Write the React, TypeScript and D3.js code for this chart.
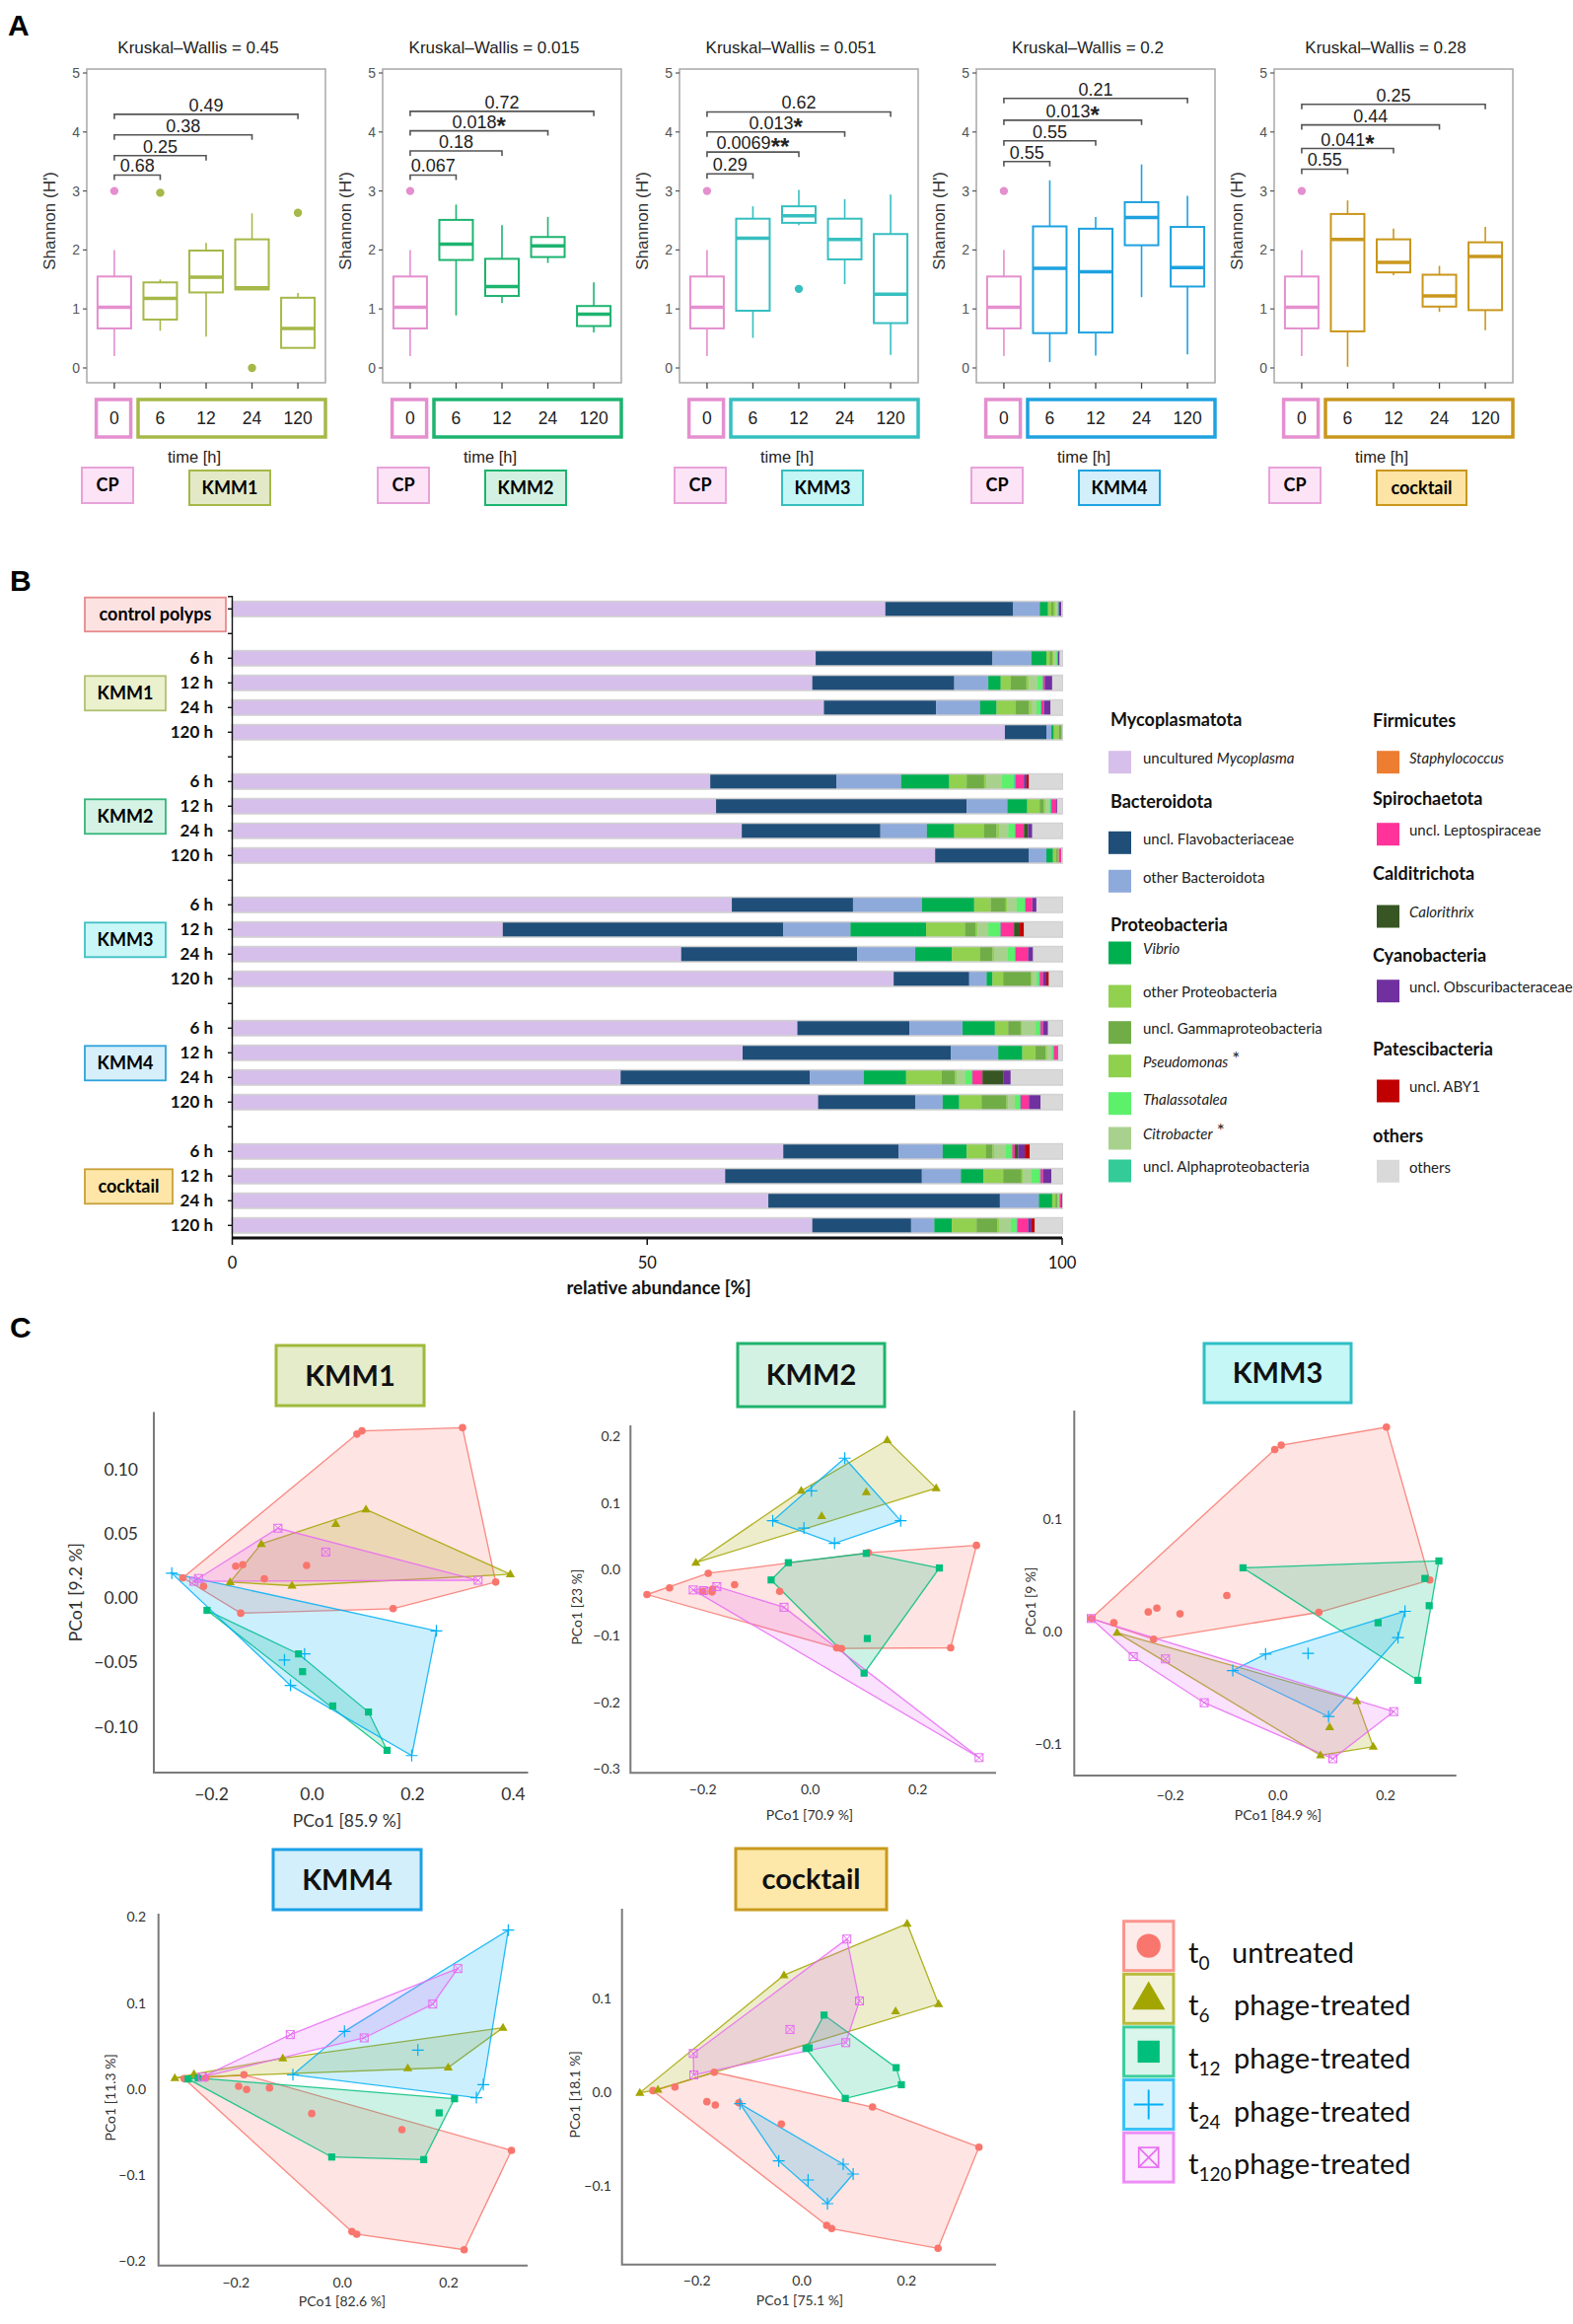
import React from "react";
import * as d3 from "d3";

// ---------- panel A: Shannon diversity ----------
const timeLabels = ["0", "6", "12", "24", "120"];
const treatments = ["KMM1", "KMM2", "KMM3", "KMM4", "cocktail"];
const kruskalP = ["0.45", "0.015", "0.051", "0.2", "0.28"];

// [lower whisker, Q1, median, Q3, upper whisker]
const cpBox = [0.2, 0.67, 1.03, 1.55, 2.0];
const cpOutliers = [3.0];
const kmm1Boxes = [[0.63, 0.82, 1.18, 1.45, 1.5], [0.53, 1.28, 1.54, 1.99, 2.12], [1.33, 1.33, 1.36, 2.18, 2.62], [0.34, 0.34, 0.67, 1.19, 1.27]];
const kmm2Boxes = [[0.89, 1.83, 2.1, 2.51, 2.77], [1.1, 1.22, 1.38, 1.85, 2.42], [1.78, 1.88, 2.07, 2.22, 2.56], [0.6, 0.71, 0.91, 1.05, 1.45]];
const kmm3Boxes = [[0.51, 0.97, 2.2, 2.53, 2.74], [2.42, 2.46, 2.58, 2.74, 3.02], [1.42, 1.84, 2.18, 2.53, 2.86], [0.22, 0.76, 1.25, 2.27, 2.94]];
const kmm4Boxes = [[0.1, 0.59, 1.69, 2.4, 3.18], [0.21, 0.6, 1.63, 2.36, 2.56], [1.2, 2.08, 2.55, 2.81, 3.45], [0.23, 1.38, 1.7, 2.39, 2.92]];
const cocktailBoxes = [[0.02, 0.62, 2.18, 2.61, 2.84], [1.57, 1.62, 1.79, 2.18, 2.36], [0.95, 1.04, 1.22, 1.58, 1.73], [0.64, 0.98, 1.89, 2.13, 2.39]];
const kmm1Outliers = [[2.97], [], [0], [2.63]];
const kmm2Outliers = [[], [], [], []];
const kmm3Outliers = [[], [1.34], [], []];
const kmm4Outliers = [[], [], [], []];
const cocktailOutliers = [[], [], [], []];

// pairwise p-values vs. 0 h (6, 12, 24, 120 h) and bracket heights
const kmm1Pairs = ["0.68", "0.25", "0.38", "0.49"];
const kmm2Pairs = ["0.067", "0.18", "0.018*", "0.72"];
const kmm3Pairs = ["0.29", "0.0069**", "0.013*", "0.62"];
const kmm4Pairs = ["0.55", "0.55", "0.013*", "0.21"];
const cocktailPairs = ["0.55", "0.041*", "0.44", "0.25"];
const kmm1PairY = [3.27, 3.6, 3.95, 4.3];
const kmm2PairY = [3.27, 3.68, 4.02, 4.35];
const kmm3PairY = [3.29, 3.66, 4.0, 4.34];
const kmm4PairY = [3.5, 3.85, 4.2, 4.57];
const cocktailPairY = [3.37, 3.72, 4.12, 4.47];

const allBoxes = [kmm1Boxes, kmm2Boxes, kmm3Boxes, kmm4Boxes, cocktailBoxes];
const allOutliers = [kmm1Outliers, kmm2Outliers, kmm3Outliers, kmm4Outliers, cocktailOutliers];
const allPairs = [kmm1Pairs, kmm2Pairs, kmm3Pairs, kmm4Pairs, cocktailPairs];
const allPairY = [kmm1PairY, kmm2PairY, kmm3PairY, kmm4PairY, cocktailPairY];

const cpColor = "#e48fcf";
const cpFill = "#fde3f6";
const groupColors = ["#a6b848", "#1db46f", "#36bfc0", "#1ea2e0", "#c9971c"];
const groupFills = ["#e3e9c7", "#d3f1e2", "#c4f6f6", "#d3effb", "#fde3a4"];

// ---------- panel B: relative abundance ----------
const taxa = [
    "uncultured Mycoplasma", "uncl. Flavobacteriaceae", "other Bacteroidota", "Vibrio",
    "other Proteobacteria", "uncl. Gammaproteobacteria", "Pseudomonas", "Citrobacter",
    "Thalassotalea", "uncl. Alphaproteobacteria", "Staphylococcus", "uncl. Leptospiraceae",
    "Calorithrix", "uncl. Obscuribacteraceae", "uncl. ABY1", "others",
];
const taxaColors = [
    "#d6bfea", "#1f4e79", "#8eaadb", "#00b050", "#92d050", "#70ad47", "#8fd14f", "#a9d18e",
    "#5cf06b", "#33cc99", "#ed7d31", "#ff3399", "#375623", "#7030a0", "#c00000", "#d9d9d9",
];
const barTimes = ["6 h", "12 h", "24 h", "120 h"];
const controlAbund = [78.7, 15.4, 3.2, 1.0, 0.4, 0.3, 0.2, 0.2, 0.1, 0.1, 0, 0, 0, 0.3, 0, 0.1];
const kmm1Abund = [
    [70.3, 21.3, 4.7, 1.8, 0.4, 0.3, 0.2, 0.2, 0.2, 0.1, 0, 0, 0, 0.2, 0, 0.3],
    [69.9, 17.1, 4.1, 1.5, 1.2, 1.9, 0.3, 1.0, 0.6, 0.1, 0, 0.2, 0, 0.9, 0, 1.2],
    [71.3, 13.5, 5.3, 2.0, 2.3, 1.6, 0.3, 0.6, 0.5, 0.1, 0, 0.3, 0, 0.8, 0, 1.4],
    [93.1, 5.0, 0.6, 0.3, 0.6, 0.3, 0.1, 0, 0, 0, 0, 0, 0, 0, 0, 0],
];
const kmm2Abund = [
    [57.6, 15.2, 7.8, 5.8, 2.1, 2.1, 0.3, 1.8, 1.5, 0.2, 0, 1.0, 0, 0.3, 0.3, 4.0],
    [58.3, 30.2, 4.9, 2.4, 1.5, 0.5, 0.2, 0.4, 0.2, 0.1, 0, 0.6, 0, 0.1, 0, 0.6],
    [61.4, 16.7, 5.6, 3.3, 3.6, 1.5, 0.3, 1.1, 0.8, 0.1, 0, 1.0, 0.5, 0.5, 0, 3.6],
    [84.7, 11.3, 2.1, 0.8, 0.4, 0.2, 0.1, 0, 0, 0, 0, 0.3, 0, 0, 0, 0.1],
];
const kmm3Abund = [
    [60.2, 14.6, 8.3, 6.3, 2.0, 1.8, 0.2, 1.1, 1.0, 0.1, 0, 0.8, 0, 0.5, 0, 3.1],
    [32.6, 33.8, 8.1, 9.1, 4.7, 1.3, 0.2, 1.3, 1.4, 0.1, 0, 1.6, 0.7, 0, 0.5, 4.6],
    [54.1, 21.2, 7.0, 4.4, 3.4, 1.5, 0.2, 1.6, 0.9, 0.1, 0, 1.5, 0, 0.6, 0, 3.5],
    [79.7, 9.1, 2.1, 0.7, 1.3, 3.3, 0.2, 0.5, 0.3, 0.1, 0, 0.4, 0, 0.4, 0.3, 1.6],
];
const kmm4Abund = [
    [68.1, 13.5, 6.4, 3.9, 1.6, 1.5, 0.2, 1.6, 0.5, 0.1, 0, 0.3, 0, 0.6, 0, 1.7],
    [61.5, 25.1, 5.7, 2.9, 1.6, 1.2, 0.2, 0.5, 0.2, 0.1, 0, 0.4, 0, 0.1, 0, 0.5],
    [46.8, 22.8, 6.5, 5.1, 4.3, 1.6, 0.2, 1.0, 0.8, 0.1, 0, 1.2, 2.5, 0.9, 0, 6.2],
    [70.6, 11.7, 3.3, 2.0, 2.7, 3.0, 0.2, 0.8, 0.6, 0.1, 0, 1.0, 0, 1.4, 0, 2.6],
];
const cocktailAbund = [
    [66.4, 13.9, 5.3, 2.9, 2.3, 0.8, 0.2, 1.4, 0.7, 0.1, 0, 0.3, 0.4, 0.8, 0.6, 3.9],
    [59.4, 23.7, 4.7, 2.7, 2.4, 2.2, 0.2, 1.0, 1.0, 0.1, 0, 0.3, 0, 1.0, 0, 1.3],
    [64.6, 27.9, 4.7, 1.6, 0.4, 0.2, 0.1, 0.1, 0.1, 0, 0, 0.2, 0, 0.1, 0, 0],
    [69.9, 11.9, 2.8, 2.1, 3.0, 2.5, 0.2, 1.4, 0.7, 0.1, 0, 1.3, 0, 0.4, 0.4, 3.3],
];
const abundTicks = [0, 50, 100];

// ---------- panel C: PCoA ----------
const timeGroups = ["t0", "t6", "t12", "t24", "t120"];
const timeColors = ["#F8766D", "#A3A500", "#00BF7D", "#00B0F6", "#E76BF3"];
const kmm1Pcoa = [
    [[0.089, 0.1275], [0.099, 0.13], [0.299, 0.1325], [0.365, 0.0124], [0.161, -0.0083], [-0.142, -0.0118], [-0.257, 0.0157], [-0.216, 0.0091], [-0.152, 0.0248], [-0.138, 0.0259], [-0.095, 0.0149], [-0.011, 0.0253]],
    [[0.107, 0.0689], [0.047, 0.0576], [-0.101, 0.0421], [-0.163, 0.0124], [-0.04, 0.0096], [0.394, 0.0185]],
    [[-0.209, -0.0096], [-0.027, -0.0435], [-0.019, -0.0573], [0.041, -0.084], [0.112, -0.0887], [0.149, -0.1185]],
    [[-0.279, 0.0193], [0.247, -0.0256], [0.198, -0.1226], [-0.043, -0.068], [-0.055, -0.0482], [-0.015, -0.0435]],
    [[-0.068, 0.0543], [0.027, 0.0358], [0.33, 0.0138], [-0.226, 0.0152], [-0.235, 0.013]],
];
const kmm2Pcoa = [
    [[-0.304, -0.038], [-0.262, -0.028], [-0.19, -0.006], [-0.141, -0.023], [-0.057, -0.033], [0.309, 0.036], [0.261, -0.118], [0.058, -0.119], [0.049, -0.118], [-0.2, -0.033], [-0.183, -0.034], [-0.182, -0.03], [0.108, 0.025]],
    [[-0.213, 0.01], [-0.017, 0.118], [0.021, 0.08], [0.104, 0.116], [0.143, 0.194], [0.234, 0.122]],
    [[-0.073, -0.016], [-0.041, 0.01], [0.104, 0.024], [0.24, 0.002], [0.106, -0.104], [0.1, -0.156]],
    [[0.064, 0.167], [0.002, 0.118], [-0.07, 0.073], [-0.012, 0.062], [0.045, 0.039], [0.168, 0.073]],
    [[-0.218, -0.031], [-0.174, -0.026], [-0.049, -0.057], [0.314, -0.283], [-0.199, -0.032]],
];
const kmm3Pcoa = [
    [[-0.347, 0.0117], [-0.305, 0.0079], [-0.231, -0.0067], [-0.241, 0.0175], [-0.225, 0.021], [-0.182, 0.0158], [-0.095, 0.0321], [-0.006, 0.1618], [0.006, 0.1656], [0.2015, 0.1817], [0.282, 0.0459], [0.076, 0.0172]],
    [[-0.299, -0.0009], [0.1465, -0.0616], [0.096, -0.0847], [0.177, -0.1022], [0.079, -0.1098]],
    [[-0.065, 0.0567], [0.299, 0.0628], [0.273, 0.0473], [0.281, 0.0231], [0.186, 0.0079], [0.26, -0.0432]],
    [[-0.084, -0.0345], [-0.023, -0.0199], [0.056, -0.0193], [0.236, 0.0181], [0.223, -0.0053], [0.094, -0.0754]],
    [[-0.347, 0.0117], [-0.269, -0.0222], [-0.209, -0.0242], [-0.137, -0.0631], [0.215, -0.071], [0.102, -0.1128]],
];
const kmm4Pcoa = [
    [[-0.2975, 0.012], [-0.257, 0.0128], [-0.185, 0.0166], [-0.195, 0.0032], [-0.18, -0.0005], [-0.137, 0.0013], [-0.0575, -0.0285], [0.112, -0.0472], [0.318, -0.0713], [0.229, -0.1867], [0.027, -0.1687], [0.018, -0.1657]],
    [[-0.315, 0.0128], [-0.279, 0.0174], [-0.112, 0.0357], [0.123, 0.0243], [0.199, 0.025], [0.302, 0.0713]],
    [[-0.271, 0.0128], [-0.02, -0.079], [0.153, -0.082], [0.211, -0.0113], [0.182, -0.0277], [-0.29, 0.0117]],
    [[-0.093, 0.0166], [0.004, 0.067], [0.142, 0.0452], [0.312, 0.1847], [0.265, 0.0051], [0.252, -0.0101]],
    [[-0.263, 0.014], [-0.098, 0.0632], [0.041, 0.0594], [0.17, 0.0987], [0.217, 0.14]],
];
const cocktailPcoa = [
    [[-0.284, 0.0015], [-0.242, 0.0054], [-0.167, 0.0211], [-0.181, -0.0103], [-0.165, -0.0138], [-0.12, -0.0114], [-0.039, -0.0341], [0.135, -0.016], [0.338, -0.0587], [0.26, -0.1665], [0.057, -0.1455], [0.0475, -0.142]],
    [[-0.309, -0.0008], [-0.2745, 0.0026], [-0.034, 0.1245], [0.201, 0.1794], [0.261, 0.0937], [0.179, 0.086]],
    [[0.008, 0.0464], [0.0425, 0.082], [0.18, 0.026], [0.19, 0.0078], [0.083, -0.0068], [0.014, 0.0471]],
    [[-0.118, -0.0124], [-0.044, -0.0734], [0.012, -0.0937], [0.079, -0.0769], [0.098, -0.0874], [0.049, -0.1189]],
    [[-0.207, 0.0411], [-0.206, 0.0183], [-0.0225, 0.0667], [0.086, 0.163], [0.11, 0.0971], [0.084, 0.0526]],
];
const pcoaXTitles = ["PCo1 [85.9 %]", "PCo1 [70.9 %]", "PCo1 [84.9 %]", "PCo1 [82.6 %]", "PCo1 [75.1 %]"];
const pcoaYTitles = ["PCo1 [9.2 %]", "PCo1 [23 %]", "PCo1 [9 %]", "PCo1 [11.3 %]", "PCo1 [18.1 %]"];
const legendSubs = ["0", "6", "12", "24", "120"];
const legendTexts = ["untreated", "phage-treated", "phage-treated", "phage-treated", "phage-treated"];

const ARIAL = "'Liberation Sans', Arial, sans-serif";
const SANS = "Lato, 'Open Sans', sans-serif";

// ===================== Panel A =====================
const panelALefts = [88, 388, 689, 990, 1292];
const PW = 242;

function Stars({ label, size }: { label: string; size: number }) {
    const num = label.replace(/\*/g, "");
    const stars = label.slice(num.length);
    return (
        <>
            {num}
            {stars && (
                <tspan fontSize={size + 6} fontWeight="bold" dy={6}>
                    {stars}
                </tspan>
            )}
        </>
    );
}

function ShannonPanel({ i }: { i: number }) {
    const left = panelALefts[i];
    const right = left + PW;
    const x = d3.scalePoint<string>().domain(timeLabels).range([left, right]).padding(0.6);
    const y = d3.scaleLinear().domain([0, 5]).range([373, 74]);
    const boxes = [cpBox, ...allBoxes[i]];
    const outliers = [cpOutliers, ...allOutliers[i]];
    const colors = timeLabels.map((_, k) => (k === 0 ? cpColor : groupColors[i]));
    const bw = 34;
    const labelW = treatments[i] === "cocktail" ? 91 : 82;

    return (
        <g fontFamily={ARIAL}>
            <text x={left + PW / 2 - 8} y={54} textAnchor="middle" fontSize={17} fill="#222">
                {`Kruskal–Wallis = ${kruskalP[i]}`}
            </text>
            <rect x={left} y={70} width={PW} height={318} fill="none" stroke="#a8a8a8" strokeWidth={1.5} />
            {y.ticks(5).map((t) => (
                <g key={t}>
                    <line x1={left - 4} x2={left} y1={y(t)} y2={y(t)} stroke="#555" strokeWidth={1.2} />
                    <text x={left - 7} y={y(t)} dy="0.35em" textAnchor="end" fontSize={14} fill="#555">
                        {t}
                    </text>
                </g>
            ))}
            <text
                transform={`translate(${left - 32},224) rotate(-90)`}
                textAnchor="middle"
                fontSize={17}
                fill="#333"
            >
                Shannon (H')
            </text>
            {timeLabels.map((t) => (
                <line key={t} x1={x(t)} x2={x(t)} y1={388} y2={394} stroke="#444" strokeWidth={1.3} />
            ))}

            {/* brackets */}
            {allPairs[i].map((lab, k) => {
                const x1 = x("0")!;
                const x2 = x(timeLabels[k + 1])!;
                const yy = y(allPairY[i][k]);
                return (
                    <g key={k}>
                        <path
                            d={`M${x1},${yy + 5}V${yy}H${x2}V${yy + 5}`}
                            fill="none"
                            stroke="#555"
                            strokeWidth={1.6}
                        />
                        <text x={(x1 + x2) / 2} y={yy - 3} textAnchor="middle" fontSize={18} fill="#222">
                            <Stars label={lab} size={18} />
                        </text>
                    </g>
                );
            })}

            {/* boxes */}
            {boxes.map((b, k) => {
                const cx = x(timeLabels[k])!;
                const c = colors[k];
                return (
                    <g key={k} stroke={c}>
                        <line x1={cx} x2={cx} y1={y(b[0])} y2={y(b[1])} strokeWidth={1.6} />
                        <line x1={cx} x2={cx} y1={y(b[3])} y2={y(b[4])} strokeWidth={1.6} />
                        <rect x={cx - bw / 2} y={y(b[3])} width={bw} height={y(b[1]) - y(b[3])} fill="#fff" strokeWidth={2} />
                        <line x1={cx - bw / 2} x2={cx + bw / 2} y1={y(b[2])} y2={y(b[2])} strokeWidth={3.5} />
                        {outliers[k].map((o, m) => (
                            <circle key={m} cx={cx} cy={y(o)} r={4.2} fill={c} stroke="none" />
                        ))}
                    </g>
                );
            })}

            {/* time label row */}
            <rect x={left + 9.6} y={405} width={35} height={38} fill="#fff" stroke={cpColor} strokeWidth={3.5} />
            <rect x={left + 52} y={405} width={PW - 52} height={38} fill="#fff" stroke={groupColors[i]} strokeWidth={3.5} />
            {timeLabels.map((t) => (
                <text key={t} x={x(t)} y={424} dy="0.36em" textAnchor="middle" fontSize={17.5} fill="#222">
                    {t}
                </text>
            ))}
            <text x={left + 109} y={469} textAnchor="middle" fontSize={16.5} fill="#222">
                time [h]
            </text>
            <rect x={left - 5} y={474} width={52} height={36} fill={cpFill} stroke="#e7a3d9" strokeWidth={2} />
            <text x={left + 21} y={492} dy="0.36em" textAnchor="middle" fontSize={18} fontWeight="bold" fontFamily={SANS}>
                CP
            </text>
            <rect x={left + 104} y={477} width={labelW} height={35} fill={groupFills[i]} stroke={groupColors[i]} strokeWidth={2} />
            <text
                x={left + 104 + labelW / 2}
                y={494.5}
                dy="0.36em"
                textAnchor="middle"
                fontSize={18}
                fontWeight="bold"
                fontFamily={SANS}
            >
                {treatments[i]}
            </text>
        </g>
    );
}

// ===================== Panel B =====================
const barGroupAbund = [kmm1Abund, kmm2Abund, kmm3Abund, kmm4Abund, cocktailAbund];
const barBoxFills = ["#ebf0cd", "#d5f3e4", "#c9f6f6", "#d6effb", "#fde6a8"];
const barBoxStrokes = ["#b0c070", "#35b57a", "#3fbfc4", "#2ea3dc", "#c9a03a"];

function AbundancePanel() {
    const rows: { id: string; group: number; time: string; vals: number[] | null }[] = [];
    rows.push({ id: "control", group: -1, time: "", vals: controlAbund });
    treatments.forEach((g, gi) => {
        rows.push({ id: `gap${gi}`, group: gi, time: "", vals: null });
        barTimes.forEach((t, ti) => rows.push({ id: `${g}|${t}`, group: gi, time: t, vals: barGroupAbund[gi][ti] }));
    });
    const yB = d3
        .scaleBand<string>()
        .domain(rows.map((r) => r.id))
        .range([604.8, 1254.8])
        .paddingInner(0.44)
        .paddingOuter(0.22);
    const xB = d3.scaleLinear().domain([0, 100]).range([235.5, 1077]);
    const bh = yB.bandwidth();
    const barRows = rows.filter((r) => r.vals);
    const table = barRows.map((r) => {
        const o: Record<string, any> = { id: r.id };
        taxa.forEach((t, j) => (o[t] = r.vals![j]));
        return o;
    });
    const series = d3.stack<any>().keys(taxa)(table);
    const cy = (id: string) => yB(id)! + bh / 2;

    return (
        <g fontFamily={SANS}>
            {barRows.map((r) => (
                <rect key={r.id} x={xB(0) - 1} y={yB(r.id)! - 1.5} width={xB(100) - xB(0) + 2} height={bh + 3} fill="#d2d2d2" />
            ))}
            {series.map((s, j) =>
                s.map((d) => (
                    <rect
                        key={`${j}-${d.data.id}`}
                        x={xB(d[0])}
                        y={yB(d.data.id)}
                        width={Math.max(0, xB(d[1]) - xB(d[0]))}
                        height={bh}
                        fill={taxaColors[j]}
                    />
                ))
            )}
            {/* y axis */}
            <line x1={235.5} x2={235.5} y1={604} y2={1255} stroke="#111" strokeWidth={1.4} />
            {[604.8, ...rows.map((r) => cy(r.id))].map((v, k) => (
                <line key={k} x1={231} x2={235.5} y1={v} y2={v} stroke="#111" strokeWidth={1.4} />
            ))}
            {rows
                .filter((r) => r.time)
                .map((r) => (
                    <text key={r.id} x={216} y={cy(r.id)} dy="0.36em" textAnchor="end" fontSize={17} fontWeight="bold" fill="#111">
                        {r.time}
                    </text>
                ))}
            {/* group labels */}
            <rect x={86} y={605.7} width={143} height={34.5} fill="#fde2e2" stroke="#e88a8a" strokeWidth={1.8} />
            <text x={157.5} y={623} dy="0.36em" textAnchor="middle" fontSize={18} fontWeight="bold">
                control polyps
            </text>
            {treatments.map((g, gi) => {
                const mid = (cy(`${g}|12 h`) + cy(`${g}|24 h`)) / 2 - 2;
                const w = g === "cocktail" ? 89 : 82;
                return (
                    <g key={g}>
                        <rect x={86} y={mid - 17.5} width={w} height={35} fill={barBoxFills[gi]} stroke={barBoxStrokes[gi]} strokeWidth={1.8} />
                        <text x={86 + w / 2} y={mid} dy="0.36em" textAnchor="middle" fontSize={18} fontWeight="bold">
                            {g}
                        </text>
                    </g>
                );
            })}
            {/* x axis */}
            <line x1={235.5} x2={1077} y1={1255} y2={1255} stroke="#111" strokeWidth={3} />
            {abundTicks.map((t) => (
                <g key={t}>
                    <line x1={xB(t)} x2={xB(t)} y1={1255} y2={1262} stroke="#111" strokeWidth={1.5} />
                    <text x={xB(t)} y={1286} textAnchor="middle" fontSize={16.5} fill="#111">
                        {t}
                    </text>
                </g>
            ))}
            <text x={668} y={1312} textAnchor="middle" fontSize={18.5} fontWeight="bold" fill="#111">
                relative abundance [%]
            </text>
            <AbundanceLegend />
        </g>
    );
}

// legend layout: header or taxon index with y position
const legendLeft: [string | number, number][] = [
    ["Mycoplasmatota", 730], [0, 772.7], ["Bacteroidota", 812.7], [1, 854.3], [2, 893.3],
    ["Proteobacteria", 937.7], [3, 966], [4, 1010], [5, 1046.7], [6, 1080.7], [8, 1118.7], [7, 1154], [9, 1187],
];
const legendRight: [string | number, number][] = [
    ["Firmicutes", 730.7], [10, 772.7], ["Spirochaetota", 810], [11, 845.7], ["Calditrichota", 885.7],
    [12, 929], ["Cyanobacteria", 968.3], [13, 1004.7], ["Patescibacteria", 1063.3], [14, 1106], ["others", 1151.7], [15, 1187.3],
];
const italicTaxa = new Set(["Vibrio", "Pseudomonas", "Thalassotalea", "Citrobacter", "Staphylococcus", "Calorithrix"]);
const starTaxa = new Set(["Pseudomonas", "Citrobacter"]);

function TaxonLabel({ name }: { name: string }) {
    if (name === "uncultured Mycoplasma")
        return (
            <>
                uncultured <tspan fontStyle="italic">Mycoplasma</tspan>
            </>
        );
    if (italicTaxa.has(name))
        return (
            <>
                <tspan fontStyle="italic">{name}</tspan>
                {starTaxa.has(name) && (
                    <tspan fontSize={19} dx={4} dy={-2}>
                        *
                    </tspan>
                )}
            </>
        );
    return <>{name}</>;
}

function AbundanceLegend() {
    const col = (items: [string | number, number][], hx: number, sx: number, tx: number) =>
        items.map(([it, yy], k) =>
            typeof it === "string" ? (
                <text key={k} x={hx} y={yy} dy="0.36em" fontSize={18} fontWeight="bold" fill="#111">
                    {it}
                </text>
            ) : (
                <g key={k}>
                    <rect x={sx} y={yy - 11.5} width={23} height={23} fill={taxaColors[it]} />
                    <text x={tx} y={yy - 4} dy="0.36em" fontSize={15} fill="#222">
                        <TaxonLabel name={taxa[it]} />
                    </text>
                </g>
            )
        );
    return (
        <g>
            {col(legendLeft, 1126, 1124, 1159)}
            {col(legendRight, 1392, 1396, 1429)}
        </g>
    );
}

// ===================== Panel C =====================
const pcoaLayouts = [
    { pts: kmm1Pcoa, xDom: [-0.2, 0.4], xR: [214.5, 520.5], yDom: [-0.1, 0.1], yR: [1750.3, 1489.7], ax: 156, top: 1431.5, bottom: 1797, right: 535.5, xTicks: [-0.2, 0, 0.2, 0.4], yTicks: [-0.1, -0.05, 0, 0.05, 0.1], yFmt: ".2f", font: 17.5, yLabX: 140, xLabY: 1819, xTitle: [352, 1846], yTitleX: 77, box: [280, 1364, 150, 61] },
    { pts: kmm2Pcoa, xDom: [-0.2, 0.2], xR: [712.7, 930.7], yDom: [-0.3, 0.2], yR: [1793.3, 1456], ax: 639.3, top: 1445, bottom: 1797.3, right: 1010, xTicks: [-0.2, 0, 0.2], yTicks: [-0.3, -0.2, -0.1, 0, 0.1, 0.2], yFmt: ".1f", font: 14, yLabX: 629, xLabY: 1814, xTitle: [821, 1840], yTitleX: 585, box: [748, 1362, 149, 64] },
    { pts: kmm3Pcoa, xDom: [-0.2, 0.2], xR: [1186.7, 1405], yDom: [-0.1, 0.1], yR: [1768.3, 1540], ax: 1089.3, top: 1430, bottom: 1800, right: 1476.7, xTicks: [-0.2, 0, 0.2], yTicks: [-0.1, 0, 0.1], yFmt: ".1f", font: 14, yLabX: 1077, xLabY: 1820, xTitle: [1296, 1840], yTitleX: 1045, box: [1221, 1362, 149, 60] },
    { pts: kmm4Pcoa, xDom: [-0.2, 0.2], xR: [239.3, 455], yDom: [-0.2, 0.2], yR: [2292.3, 1943.3], ax: 160.7, top: 1940, bottom: 2296.7, right: 535, xTicks: [-0.2, 0, 0.2], yTicks: [-0.2, -0.1, 0, 0.1, 0.2], yFmt: ".1f", font: 14, yLabX: 148, xLabY: 2314, xTitle: [347, 2333], yTitleX: 112, box: [277, 1875, 150, 61] },
    { pts: cocktailPcoa, xDom: [-0.2, 0.2], xR: [706.7, 919.3], yDom: [-0.1, 0.1], yR: [2216, 2025.7], ax: 630.7, top: 1935, bottom: 2295.7, right: 1010, xTicks: [-0.2, 0, 0.2], yTicks: [-0.1, 0, 0.1], yFmt: ".1f", font: 14, yLabX: 620, xLabY: 2312, xTitle: [811, 2332], yTitleX: 583, box: [746, 1874, 153, 62] },
];
const pcoaBoxFills = ["#e4ecc9", "#d4f2e3", "#c5f7f7", "#d3effc", "#fde7a9"];
const pcoaBoxStrokes = ["#9fba3c", "#1fb46c", "#2ebfc6", "#1aa0e6", "#c89a1d"];

function Marker({ kind, x, y, c, s = 1 }: { kind: number; x: number; y: number; c: string; s?: number }) {
    if (kind === 0) return <circle cx={x} cy={y} r={3.8 * s} fill={c} />;
    if (kind === 1) {
        const h = 8 * s;
        return <path d={`M${x},${y - h * 0.62}L${x + h * 0.58},${y + h * 0.38}L${x - h * 0.58},${y + h * 0.38}Z`} fill={c} />;
    }
    if (kind === 2) return <rect x={x - 3.6 * s} y={y - 3.6 * s} width={7.2 * s} height={7.2 * s} fill={c} />;
    if (kind === 3)
        return (
            <path d={`M${x - 6 * s},${y}H${x + 6 * s}M${x},${y - 6 * s}V${y + 6 * s}`} stroke={c} strokeWidth={1.2 * (s > 1 ? 1.6 : 1)} fill="none" />
        );
    const r = 4 * s;
    return (
        <g stroke={c} strokeWidth={s > 1 ? 1.6 : 1} fill="none">
            <rect x={x - r} y={y - r} width={2 * r} height={2 * r} />
            <path d={`M${x - r},${y - r}L${x + r},${y + r}M${x + r},${y - r}L${x - r},${y + r}`} />
        </g>
    );
}

function PcoaPanel({ i }: { i: number }) {
    const L = pcoaLayouts[i];
    const x = d3.scaleLinear().domain(L.xDom).range(L.xR);
    const y = d3.scaleLinear().domain(L.yDom).range(L.yR);
    const fmtY = d3.format(L.yFmt);
    const fmtX = d3.format(".1f");
    const [bx, by, bw, bh] = L.box;
    const midY = (L.top + L.bottom) / 2 + (i === 0 ? 0 : 8);
    return (
        <g fontFamily={SANS}>
            <rect x={bx} y={by} width={bw} height={bh} fill={pcoaBoxFills[i]} stroke={pcoaBoxStrokes[i]} strokeWidth={3} />
            <text x={bx + bw / 2} y={by + bh / 2} dy="0.36em" textAnchor="middle" fontSize={29} fontWeight="bold" fill="#111">
                {treatments[i]}
            </text>
            {L.pts.map((grp, g) => {
                const hull = d3.polygonHull(grp.map((p) => [x(p[0]), y(p[1])] as [number, number]));
                return hull ? (
                    <path
                        key={g}
                        d={`M${hull.map((p) => p.join(",")).join("L")}Z`}
                        fill={timeColors[g]}
                        fillOpacity={0.2}
                        stroke={timeColors[g]}
                        strokeOpacity={0.85}
                        strokeWidth={1.3}
                    />
                ) : null;
            })}
            {L.pts.map((grp, g) =>
                grp.map((p, k) => <Marker key={`${g}-${k}`} kind={g} x={x(p[0])} y={y(p[1])} c={timeColors[g]} />)
            )}
            <path d={`M${L.ax},${L.top}V${L.bottom}H${L.right}`} fill="none" stroke="#7a7a7a" strokeWidth={2} />
            {L.yTicks.map((t) => (
                <text key={t} x={L.yLabX} y={y(t)} dy="0.36em" textAnchor="end" fontSize={L.font} fill="#333">
                    {fmtY(t)}
                </text>
            ))}
            {L.xTicks.map((t) => (
                <text key={t} x={x(t)} y={L.xLabY} dy="0.36em" textAnchor="middle" fontSize={L.font} fill="#333">
                    {fmtX(t)}
                </text>
            ))}
            <text x={L.xTitle[0]} y={L.xTitle[1]} dy="0.36em" textAnchor="middle" fontSize={L.font} fill="#333">
                {pcoaXTitles[i]}
            </text>
            <text transform={`translate(${L.yTitleX},${midY}) rotate(-90)`} dy="0.36em" textAnchor="middle" fontSize={L.font} fill="#333">
                {pcoaYTitles[i]}
            </text>
        </g>
    );
}

function PcoaLegend() {
    const step = 53.6;
    return (
        <g fontFamily={SANS}>
            {timeGroups.map((g, k) => {
                const top = 1947.7 + k * step;
                const cy = top + 25;
                return (
                    <g key={g}>
                        <rect x={1139.5} y={top} width={50.5} height={50} fill={timeColors[k]} fillOpacity={0.15} stroke={timeColors[k]} strokeOpacity={0.75} strokeWidth={3} />
                        <Marker kind={k} x={1164.7} y={cy} c={timeColors[k]} s={k === 0 ? 3.2 : k === 1 ? 3.6 : k === 2 ? 3.1 : 2.5} />
                        <text x={1205} y={top + 42} fontSize={29} fill="#111">
                            t
                            <tspan fontSize={19} dy={7}>
                                {legendSubs[k]}
                            </tspan>
                            <tspan x={k === 0 ? 1249 : 1251} dy={-7}>
                                {legendTexts[k]}
                            </tspan>
                        </text>
                    </g>
                );
            })}
        </g>
    );
}

export default function App() {
    return (
        <svg
            width={1595}
            height={2356}
            style={{ position: "absolute", left: 0, top: 0, background: "#fff" }}
            fontFamily={SANS}
        >
            <rect width={1595} height={2356} fill="#fff" />
            <text x={8} y={36} fontSize={30} fontWeight="bold" fontFamily={ARIAL}>A</text>
            <text x={10} y={599} fontSize={30} fontWeight="bold" fontFamily={ARIAL}>B</text>
            <text x={10} y={1356} fontSize={30} fontWeight="bold" fontFamily={ARIAL}>C</text>
            {treatments.map((_, i) => (
                <ShannonPanel key={i} i={i} />
            ))}
            <AbundancePanel />
            {treatments.map((_, i) => (
                <PcoaPanel key={i} i={i} />
            ))}
            <PcoaLegend />
        </svg>
    );
}
